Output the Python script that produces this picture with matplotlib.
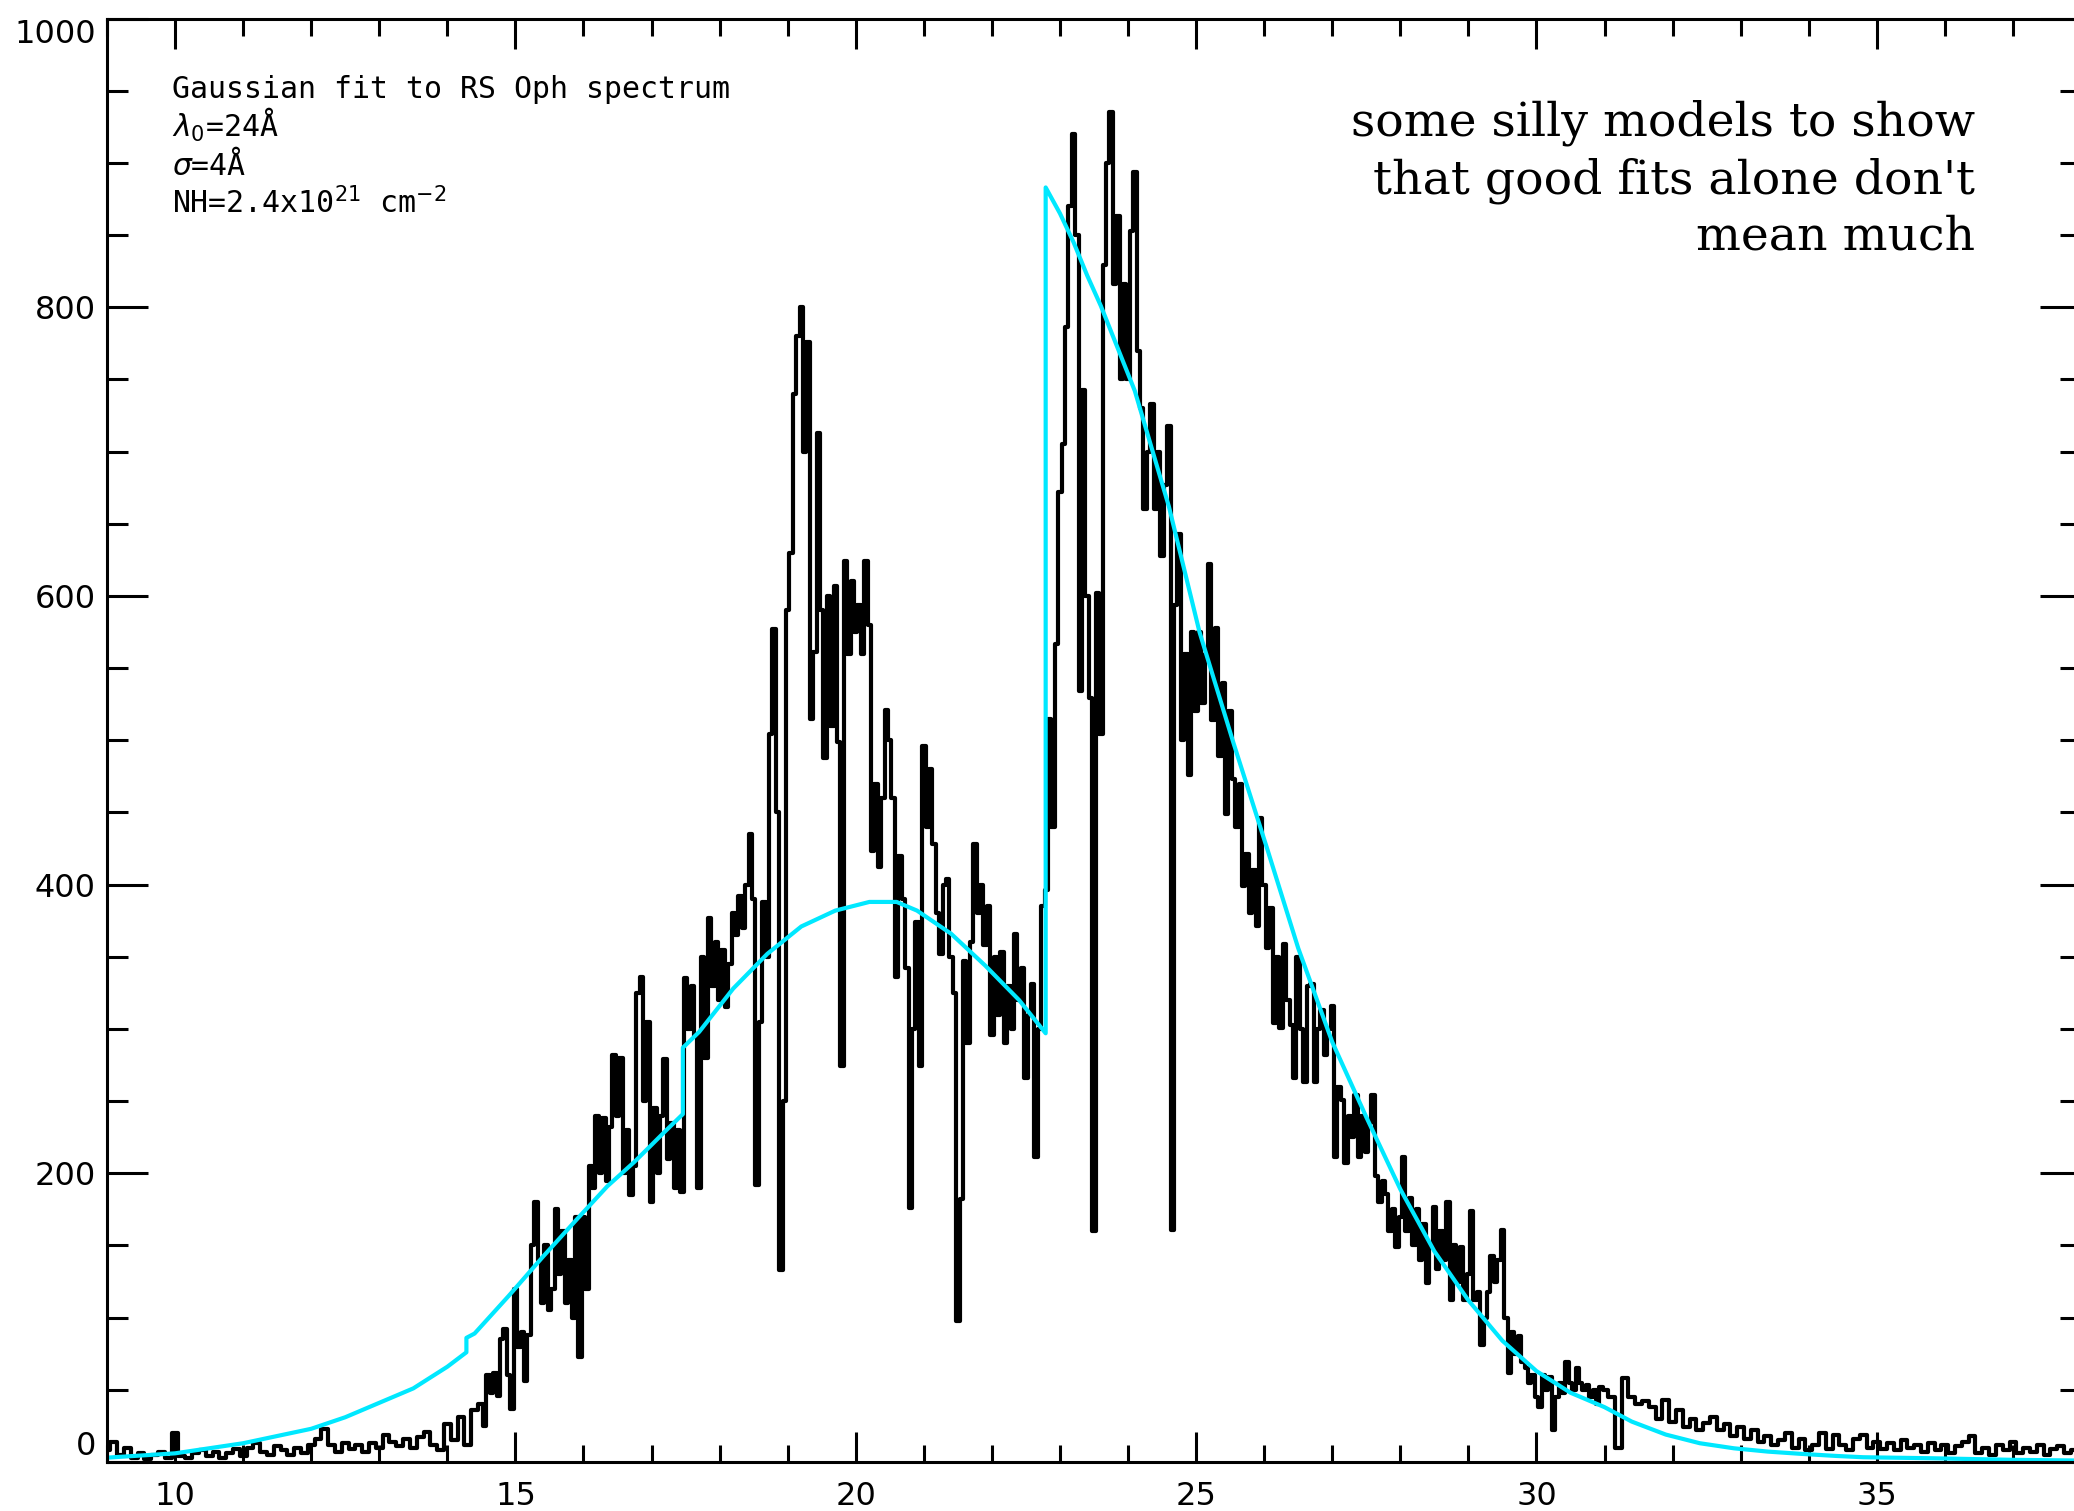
import numpy as np
import matplotlib
matplotlib.use('Agg')
import matplotlib.pyplot as plt
from matplotlib.ticker import MultipleLocator

#%% spectrum counts
# 9.0 - 14.4 A, 0.1 A bins
counts_lo = [8, 14, 5, 10, 3, 6, 2, 5, 7, 3,
             20, 4, 3, 6, 8, 4, 7, 3, 6, 9,
             4, 10, 13, 7, 5, 11, 8, 5, 10, 6,
             12, 16, 23, 12, 7, 13, 9, 12, 7, 13,
             10, 19, 14, 11, 16, 10, 17, 21, 12, 8,
             26, 15, 31, 12, 36]
# 14.5 - 30.95 A, 0.05 A bins
counts_mid = [40, 25, 60, 48, 62, 46, 85, 92, 60, 37,
              120, 80, 90, 56, 88, 150, 180, 140, 110, 150,
              105, 120, 175, 130, 160, 110, 140, 100, 170, 73,
              170, 120, 205, 190, 240, 200, 238, 195, 232, 282,
              240, 280, 200, 230, 185, 205, 325, 336, 250, 305,
              180, 245, 200, 240, 279, 210, 235, 190, 230, 187,
              335, 300, 330, 295, 190, 350, 280, 377, 330, 360,
              320, 355, 315, 345, 380, 365, 392, 370, 400, 435,
              390, 192, 305, 388, 350, 504, 577, 450, 133, 250,
              590, 630, 740, 780, 800, 700, 776, 515, 561, 713,
              590, 488, 600, 510, 607, 499, 274, 624, 560, 610,
              575, 594, 560, 624, 580, 423, 470, 412, 460, 521,
              500, 460, 336, 420, 390, 342, 176, 300, 374, 274,
              496, 440, 480, 428, 380, 352, 400, 404, 350, 325,
              98, 182, 347, 290, 360, 428, 380, 400, 358, 385,
              296, 350, 310, 353, 290, 330, 300, 366, 320, 342,
              266, 310, 331, 211, 300, 385, 396, 515, 440, 567,
              672, 705, 786, 870, 920, 850, 534, 743, 600, 529,
              160, 602, 504, 829, 900, 935, 816, 863, 750, 816,
              750, 853, 894, 770, 730, 660, 700, 733, 660, 700,
              628, 677, 718, 161, 594, 643, 500, 560, 476, 575,
              520, 575, 526, 560, 622, 514, 578, 489, 540, 449,
              520, 473, 440, 470, 399, 421, 380, 410, 371, 446,
              400, 356, 384, 304, 350, 301, 359, 320, 303, 266,
              350, 300, 263, 330, 331, 263, 300, 313, 282, 300,
              316, 211, 260, 251, 207, 240, 225, 254, 211, 240,
              215, 235, 254, 198, 180, 195, 186, 160, 175, 149,
              170, 211, 160, 183, 150, 175, 140, 165, 124, 150,
              177, 134, 160, 140, 180, 112, 150, 125, 149, 112,
              130, 174, 112, 118, 81, 100, 118, 143, 125, 140,
              161, 100, 62, 90, 75, 87, 69, 65, 55, 60,
              45, 38, 60, 50, 59, 22, 45, 55, 48, 69,
              55, 50, 65, 55, 50, 53, 45, 50, 40, 52]
# 31.0 - 38.0 A, 0.1 A bins
counts_hi = [50, 45, 10, 58, 45, 40, 42, 38, 30, 43,
             28, 36, 24, 30, 22, 27, 31, 22, 26, 18,
             24, 16, 22, 14, 18, 12, 15, 20, 10, 16,
             8, 12, 20, 9, 19, 12, 8, 16, 19, 10,
             14, 9, 13, 8, 15, 10, 12, 7, 13, 8,
             12, 6, 11, 14, 18, 6, 10, 5, 12, 8,
             14, 6, 10, 7, 12, 5, 9, 11, 6, 8,
             7]

# gaussian model (with absorption edges)
model_wave = [9.0, 9.5, 10.0, 10.5, 11.0, 11.5, 12.0, 12.5, 13.0, 13.5,
              14.0, 14.28, 14.28, 14.4, 14.9, 15.4, 15.9, 16.35, 16.75, 17.22,
              17.46, 17.46, 17.7, 18.2, 18.7, 19.2, 19.7, 20.2, 20.6, 20.9,
              21.4, 21.9, 22.4, 22.79, 22.79, 23.0, 23.2, 23.4, 23.6, 24.1,
              24.6, 25.05, 25.55, 26.05, 26.5, 27.0, 27.5, 28.0, 28.5, 29.0,
              29.5, 30.0, 30.5, 31.0, 31.4, 31.9, 32.4, 32.9, 33.4, 33.9,
              34.4, 34.8, 35.8, 37.0, 38.0]
model_counts = [3, 4.5, 6, 9.5, 13, 18, 23, 31, 41, 51,
                66, 76, 86, 89, 115, 142, 168, 191, 208, 230,
                241, 287, 298, 328, 352, 371, 382, 388, 388, 382,
                366, 344, 320, 297, 883, 865, 845, 822, 801, 742,
                662, 575, 498, 424, 356, 291, 239, 189, 146, 112,
                84, 63, 48, 38, 28, 19, 13, 9.5, 7.2, 5.6,
                4.2, 3.3, 2.6, 1.5, 1]

wave_lo = 9.0 + 0.1 * np.arange(len(counts_lo))
wave_mid = 14.5 + 0.05 * np.arange(len(counts_mid))
wave_hi = 31.0 + 0.1 * np.arange(len(counts_hi))
wave = np.concatenate([wave_lo, wave_mid, wave_hi])
counts = np.array(counts_lo + counts_mid + counts_hi, dtype=float)

#%% plot
fig = plt.figure(figsize=(20.74, 15.11), dpi=100)
ax = fig.add_axes([0.05159, 0.03243, 0.95178, 0.9553])

ax.step(wave, counts, where='mid', color='black', lw=3.0)
ax.plot(model_wave, model_counts, color='#00e8ff', lw=3.0)

ax.set_xlim(9, 38)
ax.set_ylim(0, 1000)
ax.set_xticks([10, 15, 20, 25, 30, 35])
ax.xaxis.set_minor_locator(MultipleLocator(1))
ax.set_yticks([0, 200, 400, 600, 800, 1000])
ax.yaxis.set_minor_locator(MultipleLocator(50))

ax.tick_params(which='both', direction='in', top=True, right=True, width=2.2, labelsize=23)
ax.tick_params(axis='x', which='major', length=21.5, pad=14)
ax.tick_params(axis='x', which='minor', length=12)
ax.tick_params(axis='y', which='major', length=29.5, pad=8)
ax.tick_params(axis='y', which='minor', length=15)
for sp in ax.spines.values():
    sp.set_linewidth(2.2)

ylabs = ax.get_yticklabels()
ylabs[0].set_va('bottom')
ylabs[-1].set_va('top')

# annotation, upper left
left_lines = ['Gaussian fit to RS Oph spectrum',
              r'$\lambda_0$=24Å',
              r'$\sigma$=4Å',
              r'NH=2.4x10$^{21}$ cm$^{-2}$']
left_base = [98, 137, 175, 213]
for s, yb in zip(left_lines, left_base):
    fig.text(172/2074, 1 - yb/1511, s, fontsize=21.5, ha='left', va='baseline',
             family='DejaVu Sans Mono')

# annotation, upper right
right_lines = ['some silly models to show',
               "that good fits alone don't",
               'mean much']
right_base = [136, 193, 250]
for s, yb in zip(right_lines, right_base):
    fig.text(1975/2074, 1 - yb/1511, s, fontsize=34, ha='right', va='baseline',
             family='DejaVu Serif')

fig.savefig('out.png', dpi=100)
